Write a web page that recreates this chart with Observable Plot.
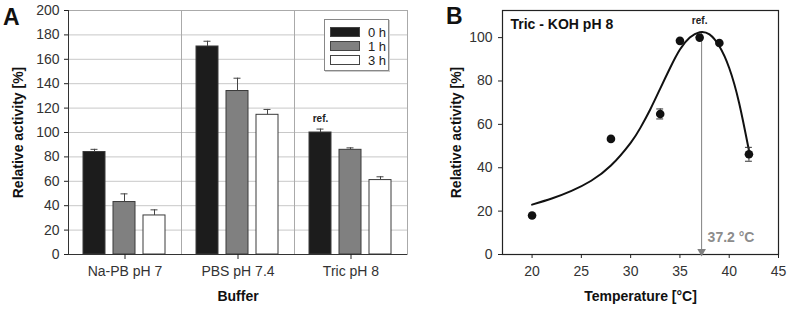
<!DOCTYPE html>
<html>
<head>
<meta charset="utf-8">
<script src="https://cdn.jsdelivr.net/npm/d3@7"></script>
<script src="https://cdn.jsdelivr.net/npm/@observablehq/plot@0.6"></script>
<style>
  html, body { margin: 0; padding: 0; background: #fff; }
  #wrap { position: relative; width: 788px; height: 311px; overflow: hidden; font-family: "Liberation Sans", Arial, sans-serif; }
  .panel { position: absolute; top: 0; }
  .letter { position: absolute; font-weight: bold; font-size: 23px; color: #111; line-height: 1; }
  #legend { position: absolute; left: 324px; top: 19px; width: 63px; height: 50px; border: 1px solid #888; background: #fff; box-shadow: 1px 1px 0 #ccc; font-size: 13px; color: #222; }
  #legend .row { position: absolute; left: 5px; height: 12px; display: flex; align-items: center; }
  #legend .sw { width: 30px; height: 10px; border: 1px solid #444; box-sizing: border-box; margin-right: 8px; }
  svg text { font-family: "Liberation Sans", Arial, sans-serif; }
  g[aria-label$="-axis tick label"] text { fill: #333; }
  g[aria-label$="-axis label"] text { font-weight: bold; fill: #111; font-size: 14px; }
</style>
</head>
<body>
<div id="wrap">
  <div id="panelA" class="panel" style="left:0px"></div>
  <div id="panelB" class="panel" style="left:410px"></div>
  <div class="letter" style="left:3px; top:6px;">A</div>
  <div class="letter" style="left:446px; top:5px;">B</div>
  <div id="legend"></div>
</div>
<script>
// ---------- Panel A data ----------
const buffers = ["Na-PB pH 7", "PBS pH 7.4", "Tric pH 8"];
const times = ["0 h", "1 h", "3 h"];
const timeColors = ["#1c1c1c", "#808080", "#ffffff"];
const act0h = [84, 170.5, 100];
const err0h = [2.2, 4.3, 2.8];
const act1h = [43, 134, 85.8];
const err1h = [6.7, 10.5, 1.6];
const act3h = [32, 114.5, 61];
const err3h = [4.6, 4.4, 2.7];
const refBuffer = "Tric pH 8";
const refTime = "0 h";

// ---------- Panel B data ----------
const tempC = [20, 28, 33, 35, 37, 39, 42];
const tempAct = [18, 53.3, 64.8, 98.5, 100, 97.5, 46.2];
const tempErr = [1, 0.8, 2.3, 0.6, 1, 0.6, 3.2];
const curveT = [20, 22, 24, 26, 28, 30, 31, 32, 33, 34, 35, 36, 37, 38, 39, 40, 41, 42];
const curveV = [23, 25.8, 29.3, 34, 41, 51.5, 58.5, 67, 76.5, 86, 94.5, 100, 102.5, 101.5, 96, 86, 70, 48];
const optTemp = 37.2;
const refTemp = 37;
const panelBTitle = "Tric - KOH pH 8";

// ---------- build tables ----------
const actByTime = [act0h, act1h, act3h];
const errByTime = [err0h, err1h, err3h];
const barData = [];
buffers.forEach((b, i) => times.forEach((t, j) => {
  barData.push({buffer: b, time: t, value: actByTime[j][i], err: errByTime[j][i]});
}));
const tempData = tempC.map((t, i) => ({t, v: tempAct[i], e: tempErr[i]}));
const curveData = curveT.map((t, i) => ({t, v: curveV[i]}));
const peakV = d3.max(curveV);

const baseStyle = {fontFamily: "Liberation Sans, Arial, sans-serif", fontSize: "14px", color: "#222", background: "transparent"};

// ---------- Panel A ----------
const plotA = Plot.plot({
  width: 410, height: 311,
  marginLeft: 67, marginRight: 2, marginTop: 10, marginBottom: 57,
  style: baseStyle,
  fx: {domain: buffers, padding: 0},
  x: {domain: times, paddingInner: 0.258, paddingOuter: 0.46, axis: null},
  y: {domain: [0, 200], ticks: d3.range(0, 201, 20)},
  color: {domain: times, range: timeColors},
  marks: [
    Plot.gridY({ticks: d3.range(0, 201, 20), stroke: "#c8c8c8", strokeOpacity: 1}),
    Plot.frame({stroke: "#aaa"}),
    Plot.barY(barData, {fx: "buffer", x: "time", y: "value", fill: "time", stroke: "#3a3a3a", strokeWidth: 1}),
    Plot.ruleX(barData, {fx: "buffer", x: "time", y1: "value", y2: d => d.value + d.err, stroke: "#444"}),
    Plot.tickY(barData, {fx: "buffer", x: "time", y: d => d.value + d.err, stroke: "#444", insetLeft: 7.5, insetRight: 7.5}),
    Plot.text(barData.filter(d => d.buffer === refBuffer && d.time === refTime), {fx: "buffer", x: "time", y: d => d.value + d.err, text: () => "ref.", dy: -10, fontSize: 10, fontWeight: "bold", fill: "#222"}),
    Plot.ruleY([0], {stroke: "#333"}),
    Plot.frame({anchor: "left", facetAnchor: "left", stroke: "#333"}),
    Plot.axisY({ticks: d3.range(0, 201, 20), tickSize: 4, tickPadding: 5, label: "Relative activity [%]", labelAnchor: "center", labelArrow: "none", labelOffset: 55}),
    Plot.axisFx({anchor: "bottom", tickSize: 5, tickPadding: 7, label: "Buffer", labelAnchor: "center", labelArrow: "none", labelOffset: 46})
  ]
});
document.getElementById("panelA").appendChild(plotA);

// legend
const legend = document.getElementById("legend");
times.forEach((t, j) => {
  const row = document.createElement("div");
  row.className = "row";
  row.style.top = (6 + j * 14) + "px";
  const sw = document.createElement("div");
  sw.className = "sw";
  sw.style.background = timeColors[j];
  const lab = document.createElement("span");
  lab.textContent = t;
  row.appendChild(sw);
  row.appendChild(lab);
  legend.appendChild(row);
});

// ---------- Panel B ----------
const plotB = Plot.plot({
  width: 378, height: 311,
  marginLeft: 92, marginRight: 10, marginTop: 10, marginBottom: 57,
  style: baseStyle,
  x: {domain: [17, 45], ticks: d3.range(20, 46, 5)},
  y: {domain: [0, 112.5], ticks: d3.range(0, 101, 20)},
  marks: [
    Plot.frame({stroke: "#222", strokeWidth: 1.2}),
    Plot.ruleX([optTemp], {x: d => d, y1: 0, y2: peakV, stroke: "#808080"}),
    Plot.dot([optTemp], {x: d => d, y: 0, symbol: "triangle", rotate: 180, r: 3.2, fill: "#808080", stroke: "none", dy: -3}),
    Plot.text([optTemp], {x: d => d, y: 0, text: d => `${d} °C`, textAnchor: "start", dx: 6, dy: -17, fill: "#8c8c8c", fontWeight: "bold", fontSize: 14}),
    Plot.line(curveData, {x: "t", y: "v", curve: "natural", stroke: "#111", strokeWidth: 2}),
    Plot.ruleX(tempData, {x: "t", y1: d => d.v - d.e, y2: d => d.v + d.e, stroke: "#333"}),
    Plot.ruleY(tempData.filter(d => d.e > 1.5), {y: d => d.v + d.e, x1: d => d.t - 0.35, x2: d => d.t + 0.35, stroke: "#333"}),
    Plot.ruleY(tempData.filter(d => d.e > 1.5), {y: d => d.v - d.e, x1: d => d.t - 0.35, x2: d => d.t + 0.35, stroke: "#333"}),
    Plot.dot(tempData, {x: "t", y: "v", r: 4.3, fill: "#111", stroke: "none"}),
    Plot.text(tempData.filter(d => d.t === refTemp), {x: "t", y: "v", text: () => "ref.", dy: -17, fontSize: 10, fontWeight: "bold", fill: "#222"}),
    Plot.text([panelBTitle], {frameAnchor: "top-left", text: d => d, dx: 8, dy: 14, fontSize: 14, fontWeight: "bold", fill: "#111", lineAnchor: "middle"}),
    Plot.axisY({ticks: d3.range(0, 101, 20), tickSize: 4, tickPadding: 6, label: "Relative activity [%]", labelAnchor: "center", labelArrow: "none", labelOffset: 51}),
    Plot.axisX({ticks: d3.range(20, 46, 5), tickSize: 4, tickPadding: 8, label: "Temperature [°C]", labelAnchor: "center", labelArrow: "none", labelOffset: 46})
  ]
});
document.getElementById("panelB").appendChild(plotB);
</script>
</body>
</html>
